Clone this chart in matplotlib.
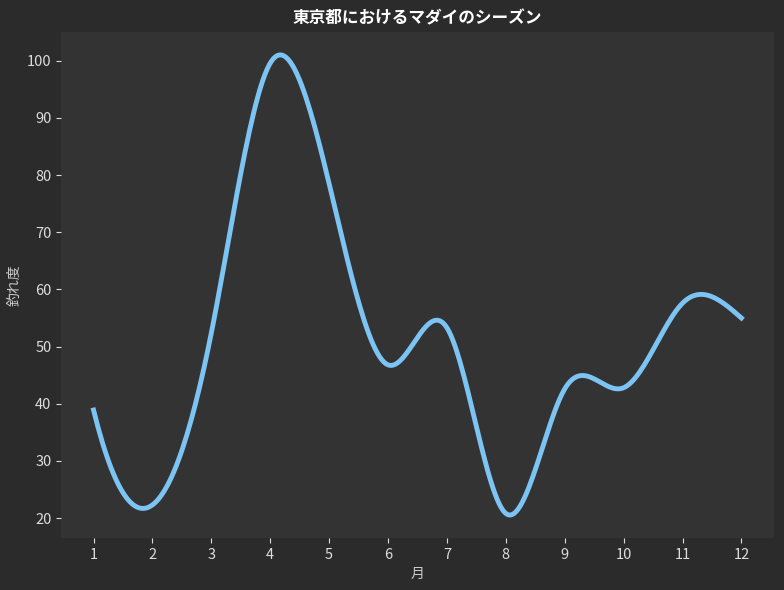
import matplotlib
matplotlib.use('Agg')
import matplotlib.pyplot as plt
import numpy as np

plt.rcParams['font.family'] = ['Noto Sans CJK JP', 'DejaVu Sans']

months = [1, 2, 3, 4, 5, 6, 7, 8, 9, 10, 11, 12]
catch_rate = [38.9, 22.3, 52.4, 99.6, 78.5, 46.8, 53.3, 20.8, 42.6, 42.8, 57.6, 55.0]

title = '東京都におけるマダイのシーズン'
xlabel = '月'
ylabel = '釣れ度'


def smooth_curve(xs, ys, num=300):
    # cubic spline: not-a-knot at the start, natural at the end
    xs = np.asarray(xs, dtype=float)
    ys = np.asarray(ys, dtype=float)
    n = len(xs)
    h = np.diff(xs)
    A = np.zeros((n, n))
    b = np.zeros(n)
    A[0, 0], A[0, 1], A[0, 2] = h[1], -(h[0] + h[1]), h[0]
    A[-1, -1] = 1
    for i in range(1, n - 1):
        A[i, i - 1] = h[i - 1]
        A[i, i] = 2 * (h[i - 1] + h[i])
        A[i, i + 1] = h[i]
        b[i] = 6 * ((ys[i + 1] - ys[i]) / h[i] - (ys[i] - ys[i - 1]) / h[i - 1])
    M = np.linalg.solve(A, b)
    xn = np.linspace(xs[0], xs[-1], num)
    idx = np.clip(np.searchsorted(xs, xn) - 1, 0, n - 2)
    x0, x1 = xs[idx], xs[idx + 1]
    hh = x1 - x0
    yn = (M[idx] * (x1 - xn) ** 3 / (6 * hh) + M[idx + 1] * (xn - x0) ** 3 / (6 * hh)
          + (ys[idx] - M[idx] * hh ** 2 / 6) * (x1 - xn) / hh
          + (ys[idx + 1] - M[idx + 1] * hh ** 2 / 6) * (xn - x0) / hh)
    return xn, yn


fig, ax = plt.subplots(figsize=(7.84, 5.9), dpi=100)
fig.patch.set_facecolor('#2b2b2b')
ax.set_facecolor('#333333')

xs, ys = smooth_curve(months, catch_rate)
ax.plot(xs, ys, color='#7cc4f4', linewidth=3.5)

ax.set_xticks(months)
ax.set_title(title, color='white', fontsize=12, fontweight='bold')
ax.set_xlabel(xlabel, color='#cccccc', fontsize=10)
ax.set_ylabel(ylabel, color='#cccccc', fontsize=10)
ax.tick_params(colors='#dddddd', labelsize=10.5)
for s in ax.spines.values():
    s.set_visible(False)

plt.subplots_adjust(left=0.078, right=0.987, top=0.946, bottom=0.088)
plt.savefig('out.png', dpi=100, facecolor=fig.get_facecolor())
